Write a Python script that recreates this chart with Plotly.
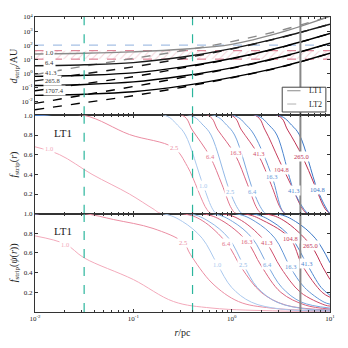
import plotly.graph_objects as go
from plotly.subplots import make_subplots

# ---------------- top panel: d_strip (AU) vs r (pc), log10 values
logr_top = [-2.0, -1.5, -1.0, -0.5, 0.0, 0.5, 1.0]
top_masses = ['1.0', '6.4', '41.3', '265.8', '1707.4']
logd_lt1 = [
    [1.37, 1.42, 1.52, 1.70, 2.05, 2.90, 4.05],
    [0.53, 0.60, 0.75, 1.15, 1.75, 2.55, 3.49],
    [-0.23, -0.15, 0.02, 0.45, 1.05, 1.85, 2.83],
    [-0.88, -0.80, -0.62, -0.20, 0.38, 1.15, 2.13],
    [-1.58, -1.50, -1.32, -0.90, -0.30, 0.45, 1.42],
]
logd_lt2 = [
    [-0.10, 0.50, 1.05, 1.60, 2.25, 3.05, 4.05],
    [-0.55, -0.05, 0.45, 1.05, 1.72, 2.53, 3.49],
    [-1.25, -0.75, -0.25, 0.38, 1.02, 1.83, 2.83],
    [-2.15, -1.55, -0.95, -0.30, 0.35, 1.13, 2.13],
    [-2.60, -2.10, -1.60, -1.00, -0.33, 0.43, 1.42],
]
disc_red = [10, 40]
disc_blue = 100

# ---------------- middle panel: f_strip(r)
mass_labels = ['1.0', '2.5', '6.4', '16.3', '41.3', '104.8', '265.0']
mid_red = [
    ([-2, -1.75, -1.42, -1.04, -0.8, -0.71, 1], [0.68, 0.6, 0.4, 0.2, 0.05, 0, 0]),
    ([-2, -1.5, -1.04, -0.59, -0.45, -0.25, -0.2, 1], [1, 1, 0.805, 0.67, 0.48, 0.04, 0, 0]),
    ([-2, -0.5, -0.4, -0.22, -0.1, 0.0, 0.05, 1], [1, 1, 0.85, 0.58, 0.3, 0.05, 0, 0]),
    ([-2, -0.24, -0.14, 0.035, 0.16, 0.26, 0.31, 1], [1, 1, 0.85, 0.6, 0.3, 0.05, 0, 0]),
    ([-2, 0.0, 0.1, 0.27, 0.4, 0.5, 0.55, 1], [1, 1, 0.85, 0.6, 0.3, 0.05, 0, 0]),
    ([-2, 0.24, 0.34, 0.48, 0.6, 0.72, 0.77, 1], [1, 1, 0.85, 0.55, 0.3, 0.05, 0, 0]),
    ([-2, 0.47, 0.57, 0.72, 0.84, 0.95, 1.0], [1, 1, 0.85, 0.58, 0.3, 0.05, 0]),
]
mid_blue = [
    ([-2, -0.68, -0.55, -0.47, -0.29, -0.19, -0.15, 1], [1, 1, 0.9, 0.8, 0.29, 0.04, 0, 0]),
    ([-2, -0.42, -0.29, -0.21, -0.02, 0.07, 0.11, 1], [1, 1, 0.9, 0.8, 0.23, 0.04, 0, 0]),
    ([-2, -0.18, -0.05, 0.03, 0.22, 0.31, 0.35, 1], [1, 1, 0.9, 0.8, 0.23, 0.04, 0, 0]),
    ([-2, 0.02, 0.15, 0.23, 0.41, 0.51, 0.55, 1], [1, 1, 0.9, 0.8, 0.38, 0.04, 0, 0]),
    ([-2, 0.25, 0.38, 0.46, 0.63, 0.74, 0.78, 1], [1, 1, 0.9, 0.8, 0.24, 0.04, 0, 0]),
    ([-2, 0.48, 0.61, 0.69, 0.87, 0.97, 1.0], [1, 1, 0.9, 0.8, 0.25, 0.04, 0]),
]

# ---------------- bottom panel: f_strip(psi(r))
bot_red = [
    ([-2, -1.69, -1.5, -1.0, -0.59, -0.2, 0.5, 1], [0.774, 0.69, 0.55, 0.33, 0.106, 0.04, 0.01, 0.005]),
    ([-2, -1.5, -1.2, -0.8, -0.49, -0.42, -0.2, 0.07, 0.4, 1], [1, 1, 0.94, 0.85, 0.706, 0.586, 0.295, 0.106, 0.04, 0.01]),
    ([-2, -0.5, -0.3, -0.05, 0.1, 0.3, 0.55, 1], [1, 1, 0.93, 0.7, 0.45, 0.2, 0.07, 0.02]),
    ([-2, -0.3, -0.1, 0.154, 0.3, 0.5, 0.75, 1], [1, 1, 0.93, 0.72, 0.47, 0.2, 0.07, 0.03]),
    ([-2, -0.1, 0.1, 0.35, 0.5, 0.7, 0.95, 1], [1, 1, 0.93, 0.706, 0.45, 0.2, 0.07, 0.06]),
    ([-2, 0.12, 0.32, 0.594, 0.72, 0.92, 1], [1, 1, 0.93, 0.747, 0.47, 0.2, 0.15]),
    ([-2, 0.33, 0.53, 0.805, 0.93, 1], [1, 1, 0.93, 0.678, 0.45, 0.33]),
]
bot_blue = [
    ([-2, -0.7, -0.5, -0.3, -0.145, 0.0, 0.2, 0.5, 1], [1, 1, 0.92, 0.75, 0.483, 0.25, 0.1, 0.03, 0.01]),
    ([-2, -0.43, -0.23, -0.03, 0.12, 0.26, 0.46, 0.76, 1], [1, 1, 0.92, 0.75, 0.48, 0.25, 0.1, 0.03, 0.02]),
    ([-2, -0.19, 0.01, 0.21, 0.363, 0.51, 0.71, 1], [1, 1, 0.92, 0.75, 0.48, 0.25, 0.1, 0.04]),
    ([-2, 0.04, 0.24, 0.44, 0.594, 0.74, 0.94, 1], [1, 1, 0.92, 0.75, 0.459, 0.25, 0.1, 0.08]),
    ([-2, 0.21, 0.41, 0.61, 0.764, 0.91, 1], [1, 1, 0.92, 0.75, 0.49, 0.25, 0.17]),
    ([-2, 0.45, 0.65, 0.85, 1], [1, 1, 0.92, 0.75, 0.5]),
]

r_gray = 5.0
r_teal = [0.0316, 0.4]

red_cols = ['#f3aabb', '#eb8ea3', '#e2778f', '#d9627d', '#cf4f6c', '#c63f5e', '#bd3152']
blue_cols = ['#abc9ee', '#92b8e6', '#7aa7de', '#6396d6', '#4d86cf', '#3a77c7']
gray_cols = ['#8a8a8a', '#1a1a1a', '#000000', '#000000', '#000000']
SERIF = 'Liberation Serif'

fig = make_subplots(rows=3, cols=1, shared_xaxes=True, vertical_spacing=0)


def lin(v):
    return [10 ** a for a in v]


# hatched disc bands
fig.add_trace(go.Scatter(x=[0.01, 10, 10, 0.01], y=[disc_red[0], disc_red[0], disc_red[1], disc_red[1]],
                         fill='toself', mode='none', fillcolor='rgba(0,0,0,0)',
                         fillpattern=dict(shape='/', fgcolor='rgba(225,130,150,0.7)', size=5, solidity=0.2),
                         showlegend=False, hoverinfo='skip'), row=1, col=1)
for yy, c in [(disc_red[0], '#d66a80'), (disc_red[1], '#d66a80'), (disc_blue, '#8fb1de')]:
    fig.add_trace(go.Scatter(x=[0.01, 10], y=[yy, yy], mode='lines',
                             line=dict(color=c, width=1, dash='dash'), showlegend=False), row=1, col=1)

for i, m in enumerate(top_masses):
    fig.add_trace(go.Scatter(x=lin(logr_top), y=lin(logd_lt1[i]), mode='lines', line_shape='spline',
                             line=dict(color=gray_cols[i], width=1.4), showlegend=False), row=1, col=1)
    fig.add_trace(go.Scatter(x=lin(logr_top), y=lin(logd_lt2[i]), mode='lines', line_shape='spline',
                             line=dict(color=gray_cols[i], width=1.4, dash='dash'), showlegend=False), row=1, col=1)

for row, reds, blues in [(2, mid_red, mid_blue), (3, bot_red, bot_blue)]:
    for i, (lx, f) in enumerate(reds):
        fig.add_trace(go.Scatter(x=lin(lx), y=f, mode='lines', line_shape='spline',
                                 line=dict(color=red_cols[i], width=1), showlegend=False), row=row, col=1)
    for i, (lx, f) in enumerate(blues):
        fig.add_trace(go.Scatter(x=lin(lx), y=f, mode='lines', line_shape='spline',
                                 line=dict(color=blue_cols[i], width=1), showlegend=False), row=row, col=1)

# vertical reference lines
for row, (lo, hi) in [(1, (1e-3, 1e4)), (2, (0, 1)), (3, (0, 1))]:
    fig.add_trace(go.Scatter(x=[r_gray, r_gray], y=[lo, hi], mode='lines',
                             line=dict(color='#888888', width=2), showlegend=False), row=row, col=1)
    for rt in r_teal:
        fig.add_trace(go.Scatter(x=[rt, rt], y=[lo, hi], mode='lines',
                                 line=dict(color='#2bb59c', width=1.2, dash='dash'), showlegend=False), row=row, col=1)

ann = []
# top curve labels (left aligned near the left frame)
for m, yv in zip(top_masses, [1.46, 0.79, 0.08, -0.55, -1.21]):
    ann.append(dict(x=-1.92, y=yv, xref='x', yref='y', text=m, showarrow=False, xanchor='left',
                    font=dict(size=6.5, color='#333', family=SERIF), bgcolor='white'))
mid_lab_red = [(-1.86, 0.66), (-0.59, 0.67), (-0.22, 0.58), (0.035, 0.62), (0.27, 0.61), (0.51, 0.45), (0.71, 0.58)]
mid_lab_blue = [(-0.29, 0.29), (-0.02, 0.23), (0.215, 0.23), (0.41, 0.38), (0.63, 0.24), (0.87, 0.25)]
bot_lab_red = [(-1.69, 0.69), (-0.49, 0.706), (-0.05, 0.70), (0.154, 0.72), (0.35, 0.706), (0.594, 0.747), (0.805, 0.678)]
bot_lab_blue = [(-0.145, 0.483), (0.12, 0.48), (0.363, 0.48), (0.594, 0.459), (0.764, 0.49)]
for yref, labs, cols in [('y2', mid_lab_red, red_cols), ('y2', mid_lab_blue, blue_cols),
                         ('y3', bot_lab_red, red_cols), ('y3', bot_lab_blue, blue_cols)]:
    for i, (lx, f) in enumerate(labs):
        ann.append(dict(x=lx, y=f, xref='x', yref=yref, text=mass_labels[i], showarrow=False,
                        font=dict(size=6.5, color=cols[i], family=SERIF), bgcolor='white'))
for yref in ['y2', 'y3']:
    ann.append(dict(x=-1.72, y=0.82, xref='x', yref=yref, text='LT1', showarrow=False,
                    font=dict(size=11, color='#222', family=SERIF)))

# hand-drawn legend box in the top panel
for txt, yv in [('LT1', 0.75), ('LT2', 0.705)]:
    ann.append(dict(x=0.951, y=yv, xref='paper', yref='paper', text=txt, showarrow=False,
                    xanchor='center', yanchor='middle',
                    font=dict(size=8, color='#222', family=SERIF)))
shapes = [
    dict(type='rect', xref='paper', yref='paper', x0=0.838, x1=0.986, y0=0.678, y1=0.762,
         line=dict(color='#444', width=1), fillcolor='white', layer='above'),
    dict(type='line', xref='paper', yref='paper', x0=0.855, x1=0.9, y0=0.75, y1=0.75,
         line=dict(color='#8a8a8a', width=1), layer='above'),
    dict(type='line', xref='paper', yref='paper', x0=0.855, x1=0.9, y0=0.705, y1=0.705,
         line=dict(color='#b0b0b0', width=1, dash='dash'), layer='above'),
]

# page body adds an 8px offset, so the figure is drawn 340 wide with shifted margins
fig.update_layout(
    width=340, height=340,
    margin=dict(l=27, r=18, t=9, b=36),
    plot_bgcolor='white', paper_bgcolor='white',
    font=dict(family=SERIF, size=7, color='#222'),
    annotations=ann, shapes=shapes,
    showlegend=False,
)

axis_style = dict(showline=True, linecolor='#333', linewidth=1, mirror='ticks', automargin=False,
                  ticks='inside', ticklen=3, tickcolor='#333', showgrid=False, zeroline=False)
fig.update_xaxes(type='log', range=[-2, 1], tickvals=[0.01, 0.1, 1, 10],
                 ticktext=['10<sup>-2</sup>', '10<sup>-1</sup>', '10<sup>0</sup>', '10<sup>1</sup>'],
                 minor=dict(ticks='inside', ticklen=2, tickcolor='#333', dtick='D1'),
                 **axis_style)
fig.update_xaxes(title=dict(text='<i>r</i>/pc', font=dict(size=10), standoff=6), row=3, col=1)
fig.update_yaxes(type='log', range=[-3, 4], tickvals=[1e-2, 1e-1, 1, 10, 100, 1e3, 1e4],
                 ticktext=['10<sup>-2</sup>', '10<sup>-1</sup>', '10<sup>0</sup>', '10<sup>1</sup>',
                           '10<sup>2</sup>', '10<sup>3</sup>', '10<sup>4</sup>'],
                 title=dict(text='<i>d</i><sub>strip</sub>/AU', font=dict(size=10), standoff=2),
                 row=1, col=1, **axis_style)
fig.update_yaxes(range=[0, 1], tickvals=[0.2, 0.4, 0.6, 0.8, 1.0],
                 ticktext=['0.2', '0.4', '0.6', '0.8', '1.0'],
                 title=dict(text='<i>f</i><sub>strip</sub>(<i>r</i>)', font=dict(size=10), standoff=4),
                 row=2, col=1, **axis_style)
fig.update_yaxes(range=[0, 1], tickvals=[0.2, 0.4, 0.6, 0.8, 1.0],
                 ticktext=['0.2', '0.4', '0.6', '0.8', '1.0'],
                 title=dict(text='<i>f</i><sub>strip</sub>(<i>ψ</i>(<i>r</i>))', font=dict(size=10), standoff=4),
                 row=3, col=1, **axis_style)

fig.write_html("out.html")
